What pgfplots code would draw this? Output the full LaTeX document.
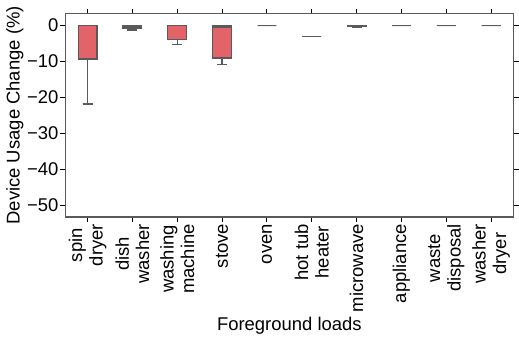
\documentclass[border=0pt]{standalone}
\usepackage{pgfplots}
\pgfplotsset{compat=1.18}
\usepgfplotslibrary{statistics}
\usepackage{fontspec}
\setmainfont{Liberation Sans}
\definecolor{boxred}{RGB}{226,100,104}
\definecolor{edge}{RGB}{90,90,90}
\begin{document}
\fontsize{18.5}{21}\selectfont
\begin{tikzpicture}
\begin{axis}[
  scale only axis, width=448bp, height=203bp,
  xmin=-0.5, xmax=9.5, ymin=-53.3, ymax=3.3,
  ytick={0,-10,-20,-30,-40,-50},
  yticklabels={0,{−10},{−20},{−30},{−40},{−50}},
  xtick={0,...,9},
  xticklabels={{spin\\dryer},{dish\\washer},{washing\\machine},stove,oven,{hot tub\\heater},microwave,appliance,{waste\\disposal},{washer\\dryer}},
  xticklabel style={rotate=90, anchor=east, align=center, font=\fontsize{18.5}{20.5}\selectfont, inner sep=2pt},
  yticklabel style={font=\fontsize{18.5}{20}\selectfont, inner sep=1.5pt},
  tick align=outside, tick pos=both,
  major tick length=5bp,
  tick style={black, line width=0.9pt},
  axis line style={edge, line width=1.2pt},
  xlabel={Foreground loads}, ylabel={Device Usage Change (\%)},
  label style={font=\fontsize{18.5}{20}\selectfont},
  xlabel style={yshift=3bp},
  ylabel style={yshift=-4bp},
  boxplot/draw direction=y,
  boxplot/box extend=0.42, boxplot/whisker extend=0.22,
]
\addplot[boxplot prepared={draw position=0, lower whisker=-21.8, lower quartile=-9.3, median=0, upper quartile=0, upper whisker=0}, draw=edge, fill=boxred, line width=1.3pt] coordinates {};
\addplot[boxplot prepared={draw position=1, lower whisker=-1.2, lower quartile=-0.7, median=-0.1, upper quartile=0, upper whisker=0}, draw=edge, fill=boxred, line width=1.3pt] coordinates {};
\addplot[boxplot prepared={draw position=2, lower whisker=-5.2, lower quartile=-3.9, median=0, upper quartile=0, upper whisker=0}, draw=edge, fill=boxred, line width=1.3pt] coordinates {};
\addplot[boxplot prepared={draw position=3, lower whisker=-10.8, lower quartile=-9.0, median=-0.4, upper quartile=0, upper whisker=0}, draw=edge, fill=boxred, line width=1.3pt] coordinates {};
\addplot[boxplot prepared={draw position=4, lower whisker=0, lower quartile=0, median=0, upper quartile=0, upper whisker=0}, draw=edge, fill=boxred, line width=1.3pt] coordinates {};
\addplot[boxplot prepared={draw position=5, lower whisker=-3.0, lower quartile=-3.0, median=-3.0, upper quartile=-3.0, upper whisker=-3.0}, draw=edge, fill=boxred, line width=1.3pt] coordinates {};
\addplot[boxplot prepared={draw position=6, lower whisker=-0.35, lower quartile=-0.3, median=-0.2, upper quartile=-0.1, upper whisker=-0.1}, draw=edge, fill=boxred, line width=1.3pt] coordinates {};
\addplot[boxplot prepared={draw position=7, lower whisker=0, lower quartile=0, median=0, upper quartile=0, upper whisker=0}, draw=edge, fill=boxred, line width=1.3pt] coordinates {};
\addplot[boxplot prepared={draw position=8, lower whisker=0, lower quartile=0, median=0, upper quartile=0, upper whisker=0}, draw=edge, fill=boxred, line width=1.3pt] coordinates {};
\addplot[boxplot prepared={draw position=9, lower whisker=0, lower quartile=0, median=0, upper quartile=0, upper whisker=0}, draw=edge, fill=boxred, line width=1.3pt] coordinates {};
\end{axis}
\end{tikzpicture}
\end{document}
